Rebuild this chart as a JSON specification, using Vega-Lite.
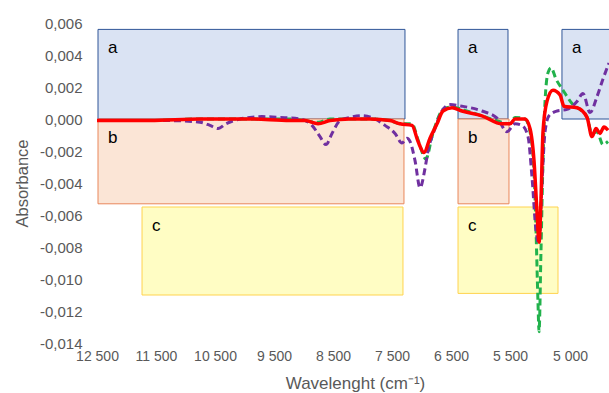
{
  "$schema": "https://vega.github.io/schema/vega-lite/v6.json",
  "width": 512,
  "height": 320,
  "autosize": {"type": "none"},
  "padding": {"left": 97, "top": 23, "right": 0, "bottom": 50},
  "background": "white",
  "config": {
    "view": {"stroke": null},
    "axis": {"labelOverlap": false, "labelFlush": false, "domain": false, "ticks": false, "grid": false, "labelFont": "Liberation Sans", "labelColor": "#595959", "titleFont": "Liberation Sans", "titleFontWeight": "normal", "titleColor": "#595959", "tickCount": 30},
    "axisX": {"labelPadding": 6, "labelFontSize": 14, "titleFontSize": 17},
    "axisY": {"labelPadding": 15, "labelFontSize": 15, "titleFontSize": 16.5}
  },
  "datasets": {
    "boxes": [
      {"label": "a", "w1": 12483, "w2": 7280, "top": 0.0056, "bottom": 0},
      {"label": "b", "w1": 12483, "w2": 7297, "top": 0, "bottom": -0.0053},
      {"label": "c", "w1": 11737, "w2": 7314, "top": -0.0055, "bottom": -0.011},
      {"label": "a", "w1": 6381, "w2": 5534, "top": 0.0056, "bottom": 0},
      {"label": "b", "w1": 6381, "w2": 5517, "top": 0, "bottom": -0.0053},
      {"label": "c", "w1": 6381, "w2": 5100, "top": -0.0055, "bottom": -0.0109},
      {"label": "a", "w1": 5067, "w2": 4600, "top": 0.0056, "bottom": 0}
    ],
    "spectra": [
      {"s": "red", "w": 12500, "a": -0.0001},
      {"s": "red", "w": 11602, "a": -0.0001},
      {"s": "red", "w": 10754, "a": 0.0},
      {"s": "red", "w": 9907, "a": 0.0},
      {"s": "red", "w": 9229, "a": -0.0001},
      {"s": "red", "w": 8975, "a": -0.0001},
      {"s": "red", "w": 8754, "a": -0.0003},
      {"s": "red", "w": 8551, "a": -0.0001},
      {"s": "red", "w": 8212, "a": 0.0},
      {"s": "red", "w": 7873, "a": 0.0},
      {"s": "red", "w": 7534, "a": -0.0001},
      {"s": "red", "w": 7364, "a": -0.0003},
      {"s": "red", "w": 7161, "a": -0.0004},
      {"s": "red", "w": 7059, "a": -0.0014},
      {"s": "red", "w": 6958, "a": -0.0021},
      {"s": "red", "w": 6856, "a": -0.0012},
      {"s": "red", "w": 6737, "a": -0.0003},
      {"s": "red", "w": 6636, "a": 0.0005},
      {"s": "red", "w": 6483, "a": 0.0007},
      {"s": "red", "w": 6314, "a": 0.0005},
      {"s": "red", "w": 5975, "a": 0.0002},
      {"s": "red", "w": 5636, "a": -0.0003},
      {"s": "red", "w": 5500, "a": -0.0003},
      {"s": "red", "w": 5458, "a": 0.0},
      {"s": "red", "w": 5375, "a": 0.0},
      {"s": "red", "w": 5333, "a": -0.0006},
      {"s": "red", "w": 5300, "a": -0.0026},
      {"s": "red", "w": 5275, "a": -0.0058},
      {"s": "red", "w": 5258, "a": -0.0077},
      {"s": "red", "w": 5242, "a": -0.0051},
      {"s": "red", "w": 5225, "a": -0.0008},
      {"s": "red", "w": 5192, "a": 0.0011},
      {"s": "red", "w": 5142, "a": 0.0018},
      {"s": "red", "w": 5083, "a": 0.0015},
      {"s": "red", "w": 5050, "a": 0.0008},
      {"s": "red", "w": 4942, "a": 0.0007},
      {"s": "red", "w": 4858, "a": 0.0001},
      {"s": "red", "w": 4817, "a": -0.0011},
      {"s": "red", "w": 4783, "a": -0.0006},
      {"s": "red", "w": 4750, "a": -0.0009},
      {"s": "red", "w": 4717, "a": -0.0005},
      {"s": "red", "w": 4683, "a": -0.0007},

      {"s": "green", "w": 12500, "a": -0.0001},
      {"s": "green", "w": 11602, "a": -0.0001},
      {"s": "green", "w": 10754, "a": 0.0},
      {"s": "green", "w": 9907, "a": 0.0},
      {"s": "green", "w": 9229, "a": 0.0},
      {"s": "green", "w": 8754, "a": -0.0002},
      {"s": "green", "w": 8551, "a": 0.0},
      {"s": "green", "w": 8212, "a": 0.0},
      {"s": "green", "w": 7873, "a": 0.0},
      {"s": "green", "w": 7534, "a": -0.0001},
      {"s": "green", "w": 7364, "a": -0.0003},
      {"s": "green", "w": 7161, "a": -0.0003},
      {"s": "green", "w": 7059, "a": -0.0013},
      {"s": "green", "w": 6924, "a": -0.0025},
      {"s": "green", "w": 6822, "a": -0.0011},
      {"s": "green", "w": 6737, "a": -0.0001},
      {"s": "green", "w": 6636, "a": 0.0006},
      {"s": "green", "w": 6483, "a": 0.00075},
      {"s": "green", "w": 6314, "a": 0.0006},
      {"s": "green", "w": 5975, "a": 0.0002},
      {"s": "green", "w": 5636, "a": -0.0002},
      {"s": "green", "w": 5500, "a": -0.0003},
      {"s": "green", "w": 5458, "a": 0.0001},
      {"s": "green", "w": 5375, "a": 0.0},
      {"s": "green", "w": 5333, "a": -0.0008},
      {"s": "green", "w": 5300, "a": -0.0033},
      {"s": "green", "w": 5283, "a": -0.007},
      {"s": "green", "w": 5267, "a": -0.0114},
      {"s": "green", "w": 5258, "a": -0.0133},
      {"s": "green", "w": 5242, "a": -0.0083},
      {"s": "green", "w": 5225, "a": -0.0026},
      {"s": "green", "w": 5208, "a": 0.0011},
      {"s": "green", "w": 5183, "a": 0.0029},
      {"s": "green", "w": 5158, "a": 0.0032},
      {"s": "green", "w": 5117, "a": 0.0025},
      {"s": "green", "w": 5058, "a": 0.0018},
      {"s": "green", "w": 4975, "a": 0.0009},
      {"s": "green", "w": 4917, "a": 0.0006},
      {"s": "green", "w": 4858, "a": 0.0001},
      {"s": "green", "w": 4817, "a": -0.0009},
      {"s": "green", "w": 4775, "a": -0.0008},
      {"s": "green", "w": 4725, "a": -0.0016},
      {"s": "green", "w": 4683, "a": -0.0014},

      {"s": "purple", "w": 12500, "a": -0.0001},
      {"s": "purple", "w": 11941, "a": -0.0001},
      {"s": "purple", "w": 11263, "a": -0.0001},
      {"s": "purple", "w": 10754, "a": -0.0002},
      {"s": "purple", "w": 10585, "a": -0.0004},
      {"s": "purple", "w": 10449, "a": -0.0006},
      {"s": "purple", "w": 10314, "a": -0.0003},
      {"s": "purple", "w": 10076, "a": 0.0},
      {"s": "purple", "w": 9907, "a": 0.0001},
      {"s": "purple", "w": 9703, "a": 0.00015},
      {"s": "purple", "w": 9398, "a": 0.0001},
      {"s": "purple", "w": 9059, "a": 0.0},
      {"s": "purple", "w": 8856, "a": -0.0004},
      {"s": "purple", "w": 8720, "a": -0.0011},
      {"s": "purple", "w": 8619, "a": -0.0016},
      {"s": "purple", "w": 8517, "a": -0.0009},
      {"s": "purple", "w": 8381, "a": -0.0001},
      {"s": "purple", "w": 8212, "a": 0.0001},
      {"s": "purple", "w": 8009, "a": 0.0002},
      {"s": "purple", "w": 7788, "a": 0.0},
      {"s": "purple", "w": 7619, "a": -0.0004},
      {"s": "purple", "w": 7449, "a": -0.0009},
      {"s": "purple", "w": 7331, "a": -0.0015},
      {"s": "purple", "w": 7246, "a": -0.0012},
      {"s": "purple", "w": 7195, "a": -0.0014},
      {"s": "purple", "w": 7110, "a": -0.0026},
      {"s": "purple", "w": 7025, "a": -0.0043},
      {"s": "purple", "w": 6941, "a": -0.0031},
      {"s": "purple", "w": 6890, "a": -0.002},
      {"s": "purple", "w": 6771, "a": -0.0006},
      {"s": "purple", "w": 6636, "a": 0.0006},
      {"s": "purple", "w": 6517, "a": 0.0009},
      {"s": "purple", "w": 6314, "a": 0.0008},
      {"s": "purple", "w": 5975, "a": 0.0005},
      {"s": "purple", "w": 5704, "a": 0.0},
      {"s": "purple", "w": 5551, "a": -0.0008},
      {"s": "purple", "w": 5458, "a": -0.0003},
      {"s": "purple", "w": 5400, "a": -0.0004},
      {"s": "purple", "w": 5350, "a": -0.0011},
      {"s": "purple", "w": 5317, "a": -0.0036},
      {"s": "purple", "w": 5283, "a": -0.007},
      {"s": "purple", "w": 5258, "a": -0.0078},
      {"s": "purple", "w": 5233, "a": -0.0039},
      {"s": "purple", "w": 5208, "a": -0.0008},
      {"s": "purple", "w": 5175, "a": 0.0002},
      {"s": "purple", "w": 5108, "a": 0.0005},
      {"s": "purple", "w": 5025, "a": 0.0006},
      {"s": "purple", "w": 4942, "a": 0.0011},
      {"s": "purple", "w": 4892, "a": 0.0016},
      {"s": "purple", "w": 4833, "a": 0.0004},
      {"s": "purple", "w": 4775, "a": 0.0014},
      {"s": "purple", "w": 4725, "a": 0.0025},
      {"s": "purple", "w": 4675, "a": 0.0035}
    ]
  },
  "layer": [
    {
      "data": {"name": "boxes"},
      "mark": {"type": "rect", "strokeWidth": 1, "clip": true},
      "encoding": {
        "x": {
          "field": "w1", "type": "quantitative",
          "scale": {"domain": [12500, 5500, 4675], "range": [0, 413, 512], "nice": false, "zero": false},
          "axis": {
            "title": "Wavelenght (cm⁻¹)",
            "values": [12500, 11500, 10500, 9500, 8500, 7500, 6500, 5500, 5000],
            "labelExpr": "replace(format(datum.value, ','), ',', ' ')",
            "labelOverlap": false, "tickCount": 30,
            "titleX": 258, "titleY": 40, "titleAlign": "center", "titleBaseline": "middle"
          }
        },
        "x2": {"field": "w2"},
        "y": {
          "field": "bottom", "type": "quantitative",
          "scale": {"domain": [-0.014, 0.006], "nice": false, "zero": false},
          "axis": {
            "title": "Absorbance",
            "values": [0.006, 0.004, 0.002, 0, -0.002, -0.004, -0.006, -0.008, -0.01, -0.012, -0.014],
            "labelExpr": "replace(replace(format(datum.value, '.3f'), '.', ','), '−', '-')",
            "labelOverlap": false, "tickCount": 30,
            "titleX": -75, "titleY": 160, "titleAlign": "center", "titleBaseline": "middle", "titleAngle": -90
          }
        },
        "y2": {"field": "top"},
        "fill": {"field": "label", "type": "nominal", "scale": {"domain": ["a", "b", "c"], "range": ["#DAE3F3", "#FBE5D6", "#FFFDC4"]}, "legend": null},
        "stroke": {"field": "label", "type": "nominal", "scale": {"domain": ["a", "b", "c"], "range": ["#2F5597", "#E9875A", "#FFD34F"]}, "legend": null}
      }
    },
    {
      "data": {"name": "boxes"},
      "mark": {"type": "text", "align": "left", "baseline": "middle", "dx": 10, "dy": 19, "font": "Liberation Sans", "fontSize": 17, "color": "#000000"},
      "encoding": {
        "x": {"field": "w1", "type": "quantitative"},
        "y": {"field": "top", "type": "quantitative"},
        "text": {"field": "label"}
      }
    },
    {
      "mark": {"type": "rule", "color": "#CCCCCC", "strokeWidth": 4},
      "encoding": {"y": {"datum": 0, "type": "quantitative"}}
    },
    {
      "data": {"name": "spectra"},
      "transform": [{"filter": "datum.s === 'green'"}],
      "mark": {"type": "line", "color": "#22B24C", "strokeWidth": 3, "strokeDash": [7, 4], "interpolate": "monotone", "clip": true},
      "encoding": {
        "x": {"field": "w", "type": "quantitative"},
        "y": {"field": "a", "type": "quantitative"}
      }
    },
    {
      "data": {"name": "spectra"},
      "transform": [{"filter": "datum.s === 'purple'"}],
      "mark": {"type": "line", "color": "#7030A0", "strokeWidth": 3, "strokeDash": [7, 4], "interpolate": "monotone", "clip": true},
      "encoding": {
        "x": {"field": "w", "type": "quantitative"},
        "y": {"field": "a", "type": "quantitative"}
      }
    },
    {
      "data": {"name": "spectra"},
      "transform": [{"filter": "datum.s === 'red'"}],
      "mark": {"type": "line", "color": "#FF0000", "strokeWidth": 3.5, "interpolate": "monotone", "clip": true},
      "encoding": {
        "x": {"field": "w", "type": "quantitative"},
        "y": {"field": "a", "type": "quantitative"}
      }
    }
  ]
}
